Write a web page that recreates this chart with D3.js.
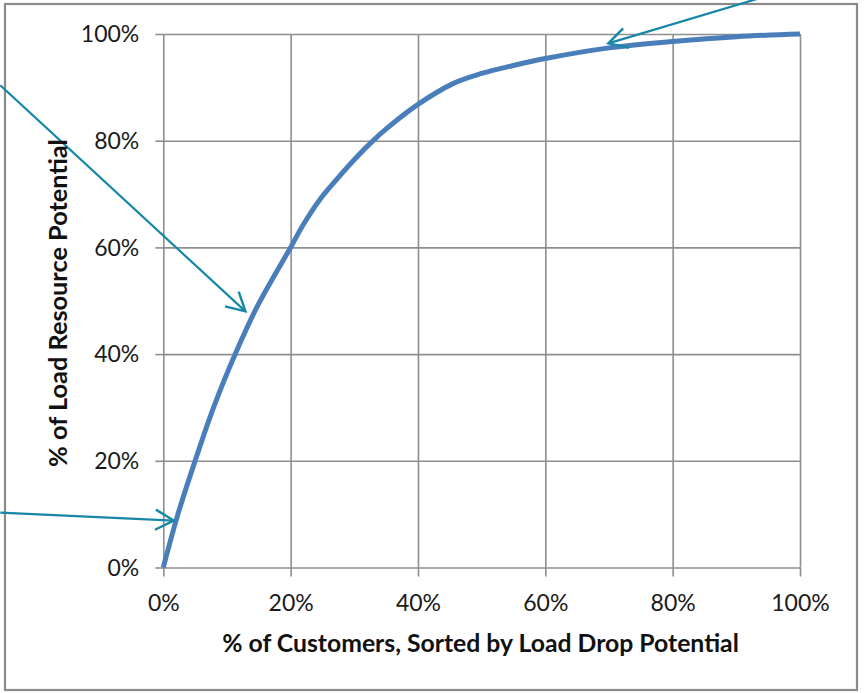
<!DOCTYPE html>
<html><head><meta charset="utf-8">
<script src="https://cdn.jsdelivr.net/npm/d3@7"></script>
<style>
html,body{margin:0;padding:0;background:#fff;}
svg{display:block;}
</style></head>
<body>
<script>
// ---- data ----
const custPct = [0, 0.023, 0.05, 0.079, 0.113, 0.147, 0.199, 0.22, 0.246, 0.272, 0.298, 0.325, 0.351, 0.40, 0.455, 0.50, 0.55, 0.60, 0.70, 0.80, 0.90, 1.00];
const loadPct = [0, 0.10, 0.20, 0.30, 0.40, 0.488, 0.598, 0.643, 0.69, 0.727, 0.762, 0.795, 0.823, 0.868, 0.907, 0.926, 0.941, 0.954, 0.974, 0.986, 0.995, 1.00];
const xTicks = [0, 0.2, 0.4, 0.6, 0.8, 1.0];
const yTicks = [0, 0.2, 0.4, 0.6, 0.8, 1.0];
const xTitle = "% of Customers, Sorted by Load Drop Potential";
const yTitle = "% of Load Resource Potential";
// annotation arrows: [x, y] in data units
const arrowTails = [[-0.256, 0.904], [-0.256, 0.103], [0.953, 1.073]];
const arrowTips  = [[0.129, 0.480], [0.0165, 0.088], [0.699, 0.9825]];

const W = 865, H = 693;
const svg = d3.select("body").append("svg").attr("width", W).attr("height", H);

const x = d3.scaleLinear().domain([0, 1]).range([163.3, 800]);
const y = d3.scaleLinear().domain([0, 1]).range([567.5, 34]);
const fmt = d3.format(".0%");
const gridCol = "#8e8e8e";
const font = "Lato, 'Open Sans', sans-serif";

// outer border
svg.append("rect").attr("x", 5).attr("y", 4).attr("width", 852).attr("height", 686)
  .attr("fill", "none").attr("stroke", "#8a8a8a").attr("stroke-width", 2.2);

// gridlines + axes
const gx = svg.append("g").attr("transform", `translate(0,${y(0)})`)
  .call(d3.axisBottom(x).tickValues(xTicks).tickFormat(fmt).tickSize(-(y(0) - y(1))).tickSizeOuter(0));
const gy = svg.append("g").attr("transform", `translate(${x(0)},0)`)
  .call(d3.axisLeft(y).tickValues(yTicks).tickFormat(fmt).tickSize(-(x(1) - x(0))).tickSizeOuter(0));
[gx, gy].forEach(g => {
  g.select(".domain").remove();
  g.selectAll(".tick line").attr("stroke", gridCol).attr("stroke-width", 1.6);
  g.selectAll(".tick text").attr("font-family", font).attr("font-size", 23).attr("fill", "#1a1a1a");
});
// outward tick marks
gx.selectAll(".tick").append("line").attr("y1", 0).attr("y2", 9).attr("stroke", gridCol).attr("stroke-width", 1.6);
gy.selectAll(".tick").append("line").attr("x1", 0).attr("x2", -8).attr("stroke", gridCol).attr("stroke-width", 1.6);
gx.selectAll(".tick text").attr("y", 36).attr("dy", "0.32em");
gy.selectAll(".tick text").attr("x", -24).attr("dy", "0.34em");

// curve
const pts = custPct.map((v, i) => [v, loadPct[i]]);
const line = d3.line().x(d => x(d[0])).y(d => y(d[1])).curve(d3.curveCatmullRom.alpha(0.5));
svg.append("path").datum(pts).attr("d", line)
  .attr("fill", "none").attr("stroke", "#4a7ebb").attr("stroke-width", 5)
  .attr("stroke-linejoin", "round").attr("stroke-linecap", "butt");

// arrows
const arrowCol = "#1787a6";
arrowTails.forEach((t, i) => {
  const tip = arrowTips[i];
  const x1 = x(t[0]), y1 = y(t[1]), x2 = x(tip[0]), y2 = y(tip[1]);
  const ang = Math.atan2(y2 - y1, x2 - x1);
  const L = 21, a = 0.5;
  const p1 = [x2 - L * Math.cos(ang - a), y2 - L * Math.sin(ang - a)];
  const p2 = [x2 - L * Math.cos(ang + a), y2 - L * Math.sin(ang + a)];
  svg.append("line").attr("x1", x1).attr("y1", y1).attr("x2", x2).attr("y2", y2)
    .attr("stroke", arrowCol).attr("stroke-width", 2.2);
  svg.append("path").attr("d", `M${p1[0]},${p1[1]}L${x2},${y2}L${p2[0]},${p2[1]}`)
    .attr("fill", "none").attr("stroke", arrowCol).attr("stroke-width", 2.4)
    .attr("stroke-linejoin", "miter");
});

// titles, fitted to width
function fitText(sel, target) {
  const w = sel.node().getComputedTextLength();
  const fs = parseFloat(sel.attr("font-size"));
  sel.attr("font-size", fs * target / w);
}
const xt = svg.append("text").attr("x", (222 + 739) / 2).attr("y", 643).attr("dy", "0.35em")
  .attr("text-anchor", "middle").attr("font-family", font).attr("font-weight", "bold")
  .attr("font-size", 20).attr("fill", "#111").text(xTitle);
fitText(xt, 517);
const yt = svg.append("text").attr("transform", `translate(58,${(139 + 467) / 2}) rotate(-90)`)
  .attr("dy", "0.35em").attr("text-anchor", "middle").attr("font-family", font).attr("font-weight", "bold")
  .attr("font-size", 20).attr("fill", "#111").text(yTitle);
fitText(yt, 328);
</script>
</body></html>
